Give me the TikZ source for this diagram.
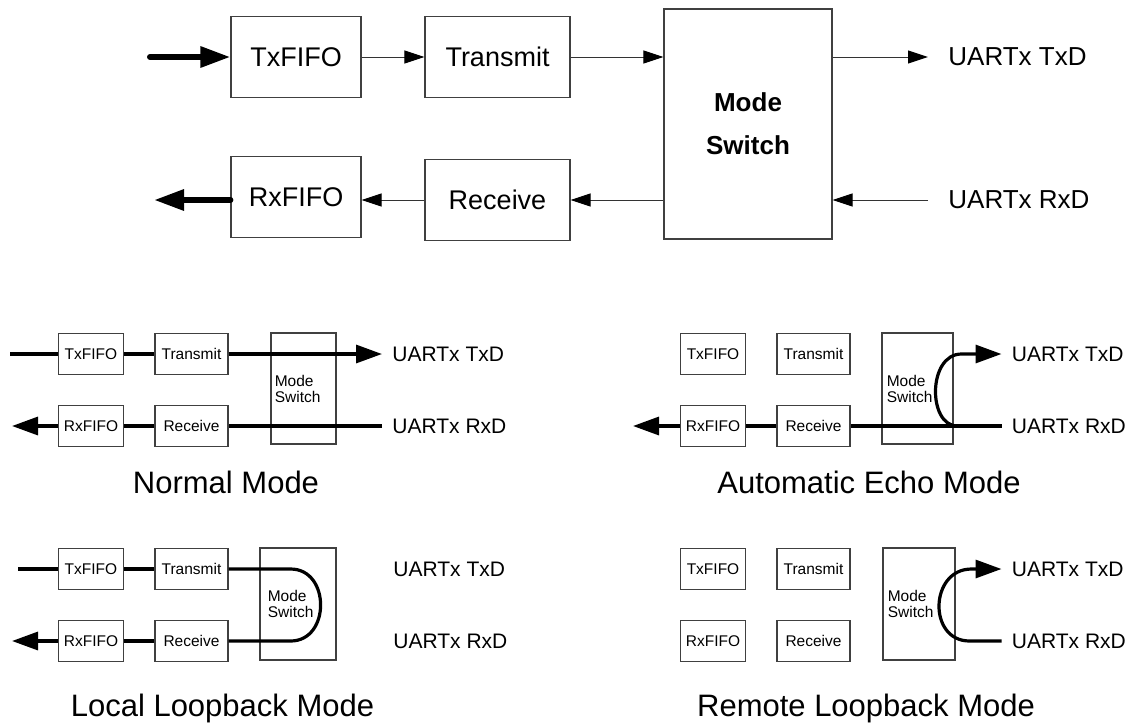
\documentclass[tikz,border=0pt]{standalone}
\usepackage{fontspec}
\setmainfont{Liberation Sans}
\usetikzlibrary{arrows.meta}

\begin{document}
\begin{tikzpicture}[
            x=0.5pt, y=-0.5pt,
            font=\fontsize{13}{15.6}\selectfont,
            box/.style={draw=black!75, line width=0.6pt, fill=white, inner sep=0pt},
            bigbox/.style={box, minimum height=40.5pt, font=\fontsize{13.5}{16}\selectfont},
            smallbox/.style={box, minimum height=20.5pt, font=\fontsize{7.75}{9}\selectfont},
            fifo/.style={smallbox, minimum width=32.5pt},
            xmit/.style={smallbox, minimum width=36.5pt},
            modebox/.style={draw=black!75, line width=0.6pt, inner sep=0pt},
            modetext/.style={anchor=west, align=left, inner sep=0pt, font=\fontsize{7.75}{8}\selectfont},
            uart/.style={anchor=west, inner ysep=0pt, inner xsep=5pt, font=\fontsize{10.5}{12}\selectfont},
            biguart/.style={anchor=west, inner ysep=0pt, inner xsep=10pt},
            title/.style={anchor=base, font=\fontsize{15.5}{18}\selectfont},
            sig/.style={draw=black!80, line width=0.5pt, -{Triangle[length=10pt,width=6.5pt,color=black]}},
            fat/.style={line width=3pt, line cap=round, -{Triangle[length=15pt,width=10pt]}},
            thk/.style={line width=1.6pt},
            thkarrow/.style={thk, -{Triangle[length=13pt,width=9pt]}}
        ]

            \useasboundingbox (0,0) rectangle (1128,723);

            % --- Schema principale ---
            \node[bigbox, minimum width=65pt] (txfifo) at (296,57) {TxFIFO};
            \node[bigbox, minimum width=72.5pt] (transmit) at (497.5,57) {Transmit};
            \node[bigbox, minimum width=65pt] (rxfifo) at (296,197) {RxFIFO};
            \node[bigbox, minimum width=72.5pt] (receive) at (497.5,200) {Receive};
            \node[modebox, minimum width=84pt, minimum height=115pt] (mode) at (748,124) {};
            \node[align=center, font=\fontsize{13}{15.6}\selectfont\bfseries] (modelbl) at (mode) {Mode\\[6pt]Switch};

            \node[biguart] (txd) at (928,57) {UARTx TxD};
            \node[biguart] (rxd) at (928,200) {UARTx RxD};
            \coordinate (in) at (150,57);
            \coordinate (out) at (154,200);

            % Percorso di trasmissione
            \draw[fat] (in) -- (txfifo.west);
            \draw[sig] (txfifo) -- (transmit);
            \draw[sig] (transmit) -- (transmit -| mode.west);
            \draw[sig] (mode.east |- txd) -- (txd.west);

            % Percorso di ricezione
            \draw[sig] (rxd.west) -- (rxd -| mode.east);
            \draw[sig] (mode.west |- rxd) -- (receive.east);
            \draw[sig] (receive.west) -- (receive.west -| rxfifo.east);
            \draw[fat] (out -| rxfifo.west) -- (out);

            % --- Blocchi dei quattro modi ---
            \foreach \px/\py/\n in {0/0/N, 622/0/E, 0/215/L, 622/215/R} {
                \begin{scope}[shift={(\px,\py)}]
                    \node[fifo] (txfifo\n) at (91,354) {TxFIFO};
                    \node[xmit] (transmit\n) at (191.5,354) {Transmit};
                    \node[fifo] (rxfifo\n) at (91,426) {RxFIFO};
                    \node[xmit] (receive\n) at (191.5,426) {Receive};
                \end{scope}
            }

            % --- Normal Mode ---
            \node[modebox, minimum width=32.5pt, minimum height=55.5pt] (modeN) at (303.5,388.5) {};
            \node[modetext] (modelblN) at ([xshift=2pt]modeN.west) {Mode\\Switch};
            \node[uart] (txdN) at (382,354) {UARTx TxD};
            \node[uart] (rxdN) at (382,426) {UARTx RxD};
            \coordinate (inN) at (10,354);
            \coordinate (outN) at (12,426);
            \draw[thk] (inN) -- (txfifoN.west);
            \draw[thk] (txfifoN.east) -- (transmitN.west);
            \draw[thkarrow] (transmitN.east) -- (txdN.west);
            \draw[thk] (rxdN.west) -- (receiveN.east);
            \draw[thk] (receiveN.west) -- (rxfifoN.east);
            \draw[thkarrow] (rxfifoN.west) -- (outN);
            \node[title] (titleN) at (226,493) {Normal Mode};

            % --- Automatic Echo Mode ---
            \node[modebox, minimum width=35.5pt, minimum height=55.5pt] (modeE) at (917.5,388.5) {};
            \node[modetext] (modelblE) at ([xshift=2.5pt]modeE.west) {Mode\\Switch};
            \node[uart] (txdE) at (1001.5,354) {UARTx TxD};
            \node[uart] (rxdE) at (1001.5,426) {UARTx RxD};
            \coordinate (outE) at (633,426);
            \draw[thk] (rxdE.west) -- (receiveE.east);
            \draw[thk] (receiveE.west) -- (rxfifoE.east);
            \draw[thkarrow] (rxfifoE.west) -- (outE);
            \draw[thkarrow] ([xshift=-22pt]rxdE.west) .. controls +(-15pt,0) and +(-17pt,0) .. ([xshift=-20pt]txdE.west) -- (txdE.west);
            \node[title] (titleE) at (869,493) {Automatic Echo Mode};

            % --- Local Loopback Mode ---
            \node[modebox, minimum width=38pt, minimum height=56pt] (modeL) at (298,604) {};
            \node[modetext] (modelblL) at ([xshift=4pt]modeL.west) {Mode\\Switch};
            \node[uart] (txdL) at (383,569) {UARTx TxD};
            \node[uart] (rxdL) at (383,641) {UARTx RxD};
            \coordinate (inL) at (18,569);
            \coordinate (outL) at (12,641);
            \draw[thk] (inL) -- (txfifoL.west);
            \draw[thk] (txfifoL.east) -- (transmitL.west);
            \draw[thk] (transmitL.east) -- ++(31pt,0) .. controls +(20pt,0) and +(20pt,0) .. ([xshift=31pt]receiveL.east) -- (receiveL.east);
            \draw[thk] (receiveL.west) -- (rxfifoL.east);
            \draw[thkarrow] (rxfifoL.west) -- (outL);
            \node[title] (titleL) at (222.5,716) {Local Loopback Mode};

            % --- Remote Loopback Mode ---
            \node[modebox, minimum width=36pt, minimum height=56pt] (modeR) at (919,604) {};
            \node[modetext] (modelblR) at ([xshift=2.5pt]modeR.west) {Mode\\Switch};
            \node[uart] (txdR) at (1001.5,569) {UARTx TxD};
            \node[uart] (rxdR) at (1001.5,641) {UARTx RxD};
            \draw[thkarrow] (rxdR.west) -- ++(-16pt,0) .. controls +(-21pt,0) and +(-21pt,0) .. ([xshift=-15pt]txdR.west) -- (txdR.west);
            \node[title] (titleR) at (866,716) {Remote Loopback Mode};

    \end{tikzpicture}
\end{document}
